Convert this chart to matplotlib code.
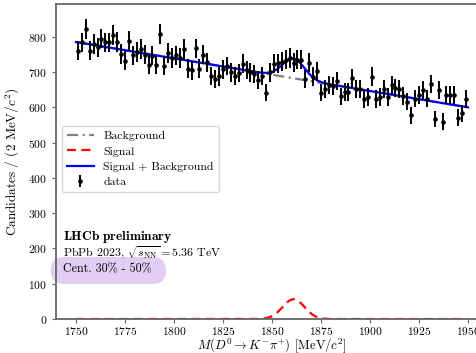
import numpy as np
import matplotlib
matplotlib.use("Agg")
import matplotlib.pyplot as plt
from matplotlib.patches import FancyBboxPatch

plt.rcParams['font.family'] = 'serif'
plt.rcParams['font.serif'] = ['cmr10', 'DejaVu Serif']
plt.rcParams['mathtext.fontset'] = 'cm'
plt.rcParams['axes.formatter.use_mathtext'] = True
plt.rcParams['axes.unicode_minus'] = False

# bin centres (2 MeV bins)
mass = np.arange(1751, 1950, 2)
counts = [761, 784, 822, 761, 780, 770, 795, 784, 784, 805,
          786, 751, 732, 788, 747, 757, 766, 749, 721, 746,
          720, 808, 718, 754, 740, 747, 740, 766, 709, 705,
          767, 709, 749, 728, 689, 680, 688, 708, 717, 699,
          689, 697, 723, 706, 699, 695, 678, 689, 642, 699,
          723, 725, 729, 735, 740, 727, 735, 735, 680, 727,
          687, 702, 642, 652, 663, 661, 674, 631, 644, 644,
          682, 652, 653, 623, 629, 687, 623, 629, 652, 629,
          663, 655, 652, 633, 616, 578, 625, 635, 648, 625,
          665, 567, 650, 559, 636, 636, 636, 570, 583, 623]
counts = np.array(counts, dtype=float)
errors = np.sqrt(counts)

# fit model parameters
bkg_left, bkg_right = 785.0, 600.0   # background at 1750 and 1950
sig_amp, sig_mu, sig_sigma = 56.0, 1861.0, 5.6

xfit = np.linspace(1750, 1950, 600)
bkg = bkg_left + (bkg_right - bkg_left) * (xfit - 1750) / 200.0
sig = sig_amp * np.exp(-0.5 * ((xfit - sig_mu) / sig_sigma) ** 2)
tot = bkg + sig

fig = plt.figure(figsize=(4.77, 3.53), dpi=100)
ax = fig.add_axes([0.1182, 0.0963, 0.904, 0.8915])

ax.plot(xfit, bkg, color='gray', ls=(0, (5, 2, 1, 2)), lw=1.6, label='Background')
ax.plot(xfit, sig, color='red', ls=(0, (4, 2.5)), lw=1.6, label='Signal')
ax.plot(xfit, tot, color='blue', lw=1.6, label='Signal + Background')
ax.errorbar(mass, counts, yerr=errors, fmt='o', color='black', ms=2.3,
            elinewidth=1.4, capsize=0, label='data', zorder=5)

ax.set_xlim(1740, 1960)
ax.set_ylim(0, 892)
ax.set_xticks([1750, 1775, 1800, 1825, 1850, 1875, 1900, 1925, 1950])
ax.set_yticks([0, 100, 200, 300, 400, 500, 600, 700, 800])
ax.tick_params(labelsize=8.3, direction='out', length=3, color='#666666')
ax.tick_params(axis='x', pad=1.5)
for s in ax.spines.values():
    s.set_color('#666666')
    s.set_linewidth(1.3)

ax.set_xlabel(r'$M(D^0 \to K^{-}\pi^{+})$ [MeV/$c^2$]', fontsize=9.2, labelpad=-1)
ax.set_ylabel(r'Candidates / (2 MeV/$c^2$)', fontsize=9.5, labelpad=5)

leg = ax.legend(loc='upper left', bbox_to_anchor=(0.012, 0.614), borderaxespad=0,
                fontsize=8.5, handlelength=2.3, labelspacing=0.42, framealpha=0.8,
                borderpad=0.45)

ax.text(0.015, 0.260, r'$\mathbf{LHCb\ preliminary}$', transform=ax.transAxes,
        fontsize=9.6, va='center', ha='left', zorder=6)
ax.text(0.015, 0.2095, r'PbPb 2023, $\sqrt{s_{\rm NN}} = 5.36$ TeV', transform=ax.transAxes,
        fontsize=8.6, va='center', ha='left', zorder=6)
ax.text(0.015, 0.159, r'Cent. 30% - 50%', transform=ax.transAxes,
        fontsize=8.7, va='center', ha='left', zorder=6)

box = FancyBboxPatch((0.507, 0.69), 1.153, 0.27,
                     boxstyle='round,pad=0,rounding_size=0.135',
                     transform=fig.dpi_scale_trans, fc='#dcc6f0', ec='none',
                     alpha=0.85, zorder=0.5, clip_on=False)
ax.add_patch(box)

fig.savefig('out.png', dpi=100)
